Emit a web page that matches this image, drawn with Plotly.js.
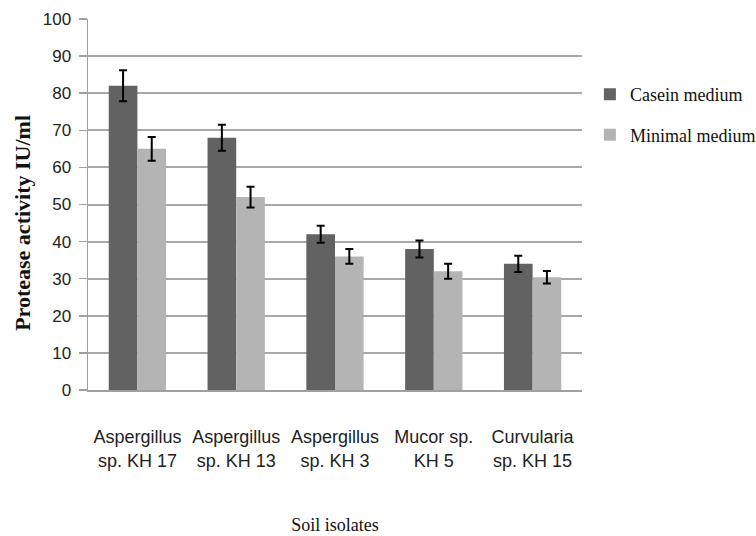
<!DOCTYPE html>
<html><head><meta charset="utf-8">
<script src="https://cdn.plot.ly/plotly-3.0.1.min.js"></script>
<style>body{margin:0;background:#fff}#c{width:756px;height:536px}</style>
</head><body><div id="c"></div>
<script>
var categories = ["Aspergillus<br>sp. KH 17","Aspergillus<br>sp. KH 13","Aspergillus<br>sp. KH 3","Mucor sp.<br>KH 5","Curvularia<br>sp. KH 15"];
var caseinValues = [82, 68, 42, 38, 34];
var caseinErrors = [4.2, 3.5, 2.3, 2.3, 2.2];
var minimalValues = [65, 52, 36, 32, 30.4];
var minimalErrors = [3.2, 2.8, 2.0, 2.0, 1.7];
var yTicks = [0,10,20,30,40,50,60,70,80,90,100];

var errStyle = {type:'data', visible:true, color:'#000', thickness:2, width:4};
var traces = [
  {type:'bar', name:'Casein medium', x:categories, y:caseinValues,
   error_y:Object.assign({array:caseinErrors}, errStyle),
   marker:{color:'#626262'}, legendgroup:'a'},
  {type:'bar', name:'Minimal medium', x:categories, y:minimalValues,
   error_y:Object.assign({array:minimalErrors}, errStyle),
   marker:{color:'#b4b4b4'}, legendgroup:'b'}
];
var sans = 'Liberation Sans, Arial, sans-serif';
var serif = 'Liberation Serif, Times New Roman, serif';
var layout = {
  width:756, height:536,
  margin:{l:88, r:174, t:19, b:146, autoexpand:false},
  paper_bgcolor:'#fff', plot_bgcolor:'#fff',
  barmode:'group', bargap:0.42, bargroupgap:0,
  font:{family:sans, color:'#222', size:17},
  xaxis:{
    showline:true, linecolor:'#a0a0a0', linewidth:1.5,
    ticks:'', ticklabelstandoff:30,
    tickfont:{size:18, family:sans, color:'#222'},
    title:{text:'Soil isolates', standoff:49, font:{family:serif, size:18, color:'#111'}}
  },
  yaxis:{
    range:[0,100], tickvals:yTicks, ticktext:yTicks.map(String),
    showline:true, linecolor:'#a0a0a0', linewidth:1.5,
    ticks:'outside', ticklen:8, tickcolor:'#a0a0a0', tickwidth:1.5,
    showgrid:true, gridcolor:'#a8a8a8', gridwidth:2,
    zeroline:false, ticklabelstandoff:4,
    tickfont:{size:17, family:sans, color:'#222'},
    title:{text:''}
  },
  annotations:[{
    text:'<b>Protease activity IU/ml</b>', textangle:-90,
    xref:'paper', yref:'paper', x:-0.134, y:0.45, xanchor:'center', yanchor:'middle',
    showarrow:false, font:{family:serif, size:22, color:'#111'}
  }],
  showlegend:true,
  legend:{x:1.016, y:0.846, xanchor:'left', yanchor:'top', tracegroupgap:14,
    font:{family:serif, size:18, color:'#111'},
    bgcolor:'rgba(0,0,0,0)'}
};
Plotly.newPlot('c', traces, layout, {displayModeBar:false, staticPlot:true});
</script></body></html>
